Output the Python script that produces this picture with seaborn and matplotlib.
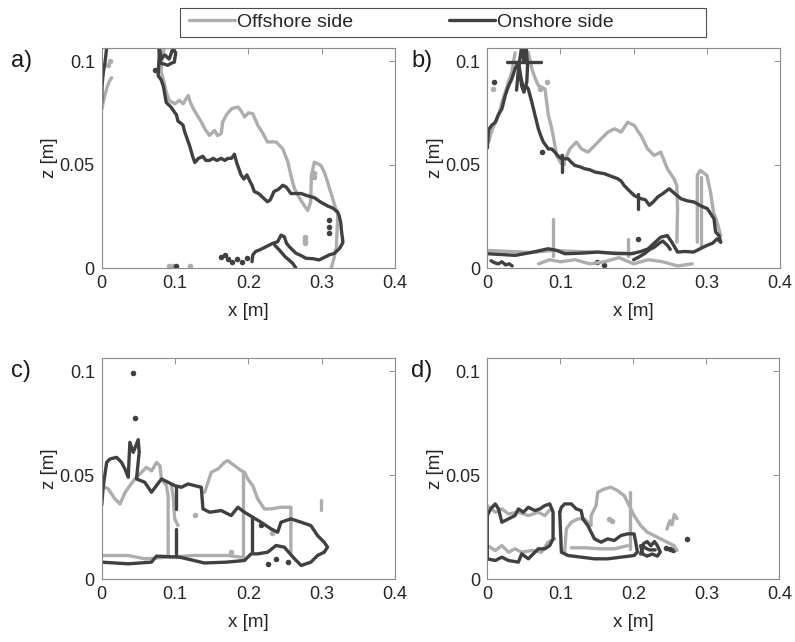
import numpy as np
import matplotlib
matplotlib.use('Agg')
import matplotlib.pyplot as plt
from matplotlib.lines import Line2D
from matplotlib.patches import Rectangle
import seaborn as sns

sns.set_style('white')
plt.rcParams['font.family'] = ['Liberation Sans', 'DejaVu Sans']

LIGHT = '#adadad'
DARK = '#404040'

# ---------------- panel a ----------------
a_on_main_x = [0.079, 0.078, 0.077, 0.081, 0.084, 0.086, 0.088, 0.094, 0.100, 0.102, 0.104, 0.108, 0.111, 0.113,
               0.116, 0.120, 0.124, 0.127, 0.132, 0.138, 0.142, 0.147, 0.152, 0.157, 0.163, 0.168, 0.172, 0.177,
               0.181, 0.184, 0.188, 0.190, 0.194, 0.198, 0.202, 0.205, 0.208, 0.214, 0.220, 0.226, 0.230, 0.235,
               0.241, 0.247, 0.252, 0.258, 0.265, 0.272, 0.280, 0.290, 0.298, 0.308, 0.315, 0.322, 0.324, 0.326,
               0.327, 0.329, 0.327, 0.324, 0.317, 0.310, 0.303, 0.2966, 0.288, 0.2785, 0.272, 0.265, 0.2558, 0.252,
               0.249, 0.2446, 0.240, 0.2332, 0.2242, 0.2151, 0.210, 0.206, 0.205]
a_on_main_z = [0.106, 0.100, 0.093, 0.091, 0.088, 0.084, 0.080, 0.078, 0.075, 0.074, 0.071, 0.070, 0.069, 0.066,
               0.063, 0.059, 0.054, 0.051, 0.053, 0.054, 0.052, 0.052, 0.053, 0.052, 0.053, 0.052, 0.053, 0.053,
               0.055, 0.051, 0.047, 0.045, 0.043, 0.045, 0.042, 0.040, 0.037, 0.036, 0.034, 0.032, 0.033, 0.037,
               0.038, 0.040, 0.039, 0.036, 0.036, 0.036, 0.035, 0.034, 0.032, 0.030, 0.029, 0.027, 0.025, 0.022,
               0.018, 0.0125, 0.011, 0.0093, 0.0070, 0.0063, 0.0050, 0.0039, 0.0045, 0.0047, 0.0060, 0.0071, 0.0103, 0.0120,
               0.0151, 0.0159, 0.0127, 0.0119, 0.0103, 0.0087, 0.0080, 0.0063, 0.0031]
a_on_tail_x = [0.236, 0.2423, 0.250, 0.2604, 0.2649]
a_on_tail_z = [0.0110, 0.0087, 0.0055, 0.0023, 0.0]
a_on_top_x = [0.078, 0.080, 0.086, 0.090, 0.095, 0.099, 0.101, 0.097, 0.092, 0.086, 0.081, 0.079]
a_on_top_z = [0.106, 0.099, 0.0985, 0.098, 0.099, 0.0995, 0.104, 0.106, 0.101, 0.103, 0.101, 0.106]
a_on_left_x = [0.0, 0.0005, 0.002, 0.0045, 0.0068]
a_on_left_z = [0.080, 0.088, 0.094, 0.0995, 0.1065]
a_on_dots_x = [0.0725, 0.163, 0.168, 0.172, 0.178, 0.185, 0.192, 0.198, 0.310, 0.310, 0.310, 0.101]
a_on_dots_z = [0.0955, 0.0055, 0.0062, 0.0045, 0.0030, 0.0042, 0.0030, 0.0050, 0.017, 0.020, 0.023, 0.001]

a_off_main_x = [0.085, 0.082, 0.081, 0.085, 0.088, 0.092, 0.0996, 0.106, 0.111, 0.118, 0.121, 0.125, 0.130, 0.136,
                0.141, 0.147, 0.154, 0.158, 0.163, 0.165, 0.170, 0.177, 0.186, 0.190, 0.195, 0.200, 0.206, 0.213,
                0.220, 0.226, 0.232, 0.238, 0.247, 0.254, 0.258, 0.263, 0.269, 0.276, 0.281, 0.285, 0.286, 0.290,
                0.299, 0.304, 0.308, 0.315, 0.322, 0.321, 0.320, 0.317, 0.313]
a_off_main_z = [0.106, 0.100, 0.095, 0.090, 0.085, 0.081, 0.0794, 0.081, 0.0794, 0.0834, 0.080, 0.077, 0.074, 0.0705,
                0.067, 0.0641, 0.0665, 0.064, 0.065, 0.0705, 0.074, 0.077, 0.0778, 0.076, 0.073, 0.075, 0.0746, 0.0689,
                0.065, 0.0609, 0.061, 0.0609, 0.0576, 0.0512, 0.0448, 0.0383, 0.0343, 0.0303, 0.0278, 0.0319, 0.0448, 0.0512,
                0.0496, 0.046, 0.0416, 0.0335, 0.0255, 0.018, 0.010, 0.005, 0.0]
a_off_left_x = [0.0005, 0.002, 0.004, 0.007, 0.010, 0.0135]
a_off_left_z = [0.077, 0.080, 0.083, 0.087, 0.090, 0.092]
a_off_bits_x = [0.277, 0.277, 0.277, 0.290, 0.290, 0.092, 0.097, 0.120, 0.008, 0.012]
a_off_bits_z = [0.012, 0.0135, 0.015, 0.044, 0.046, 0.001, 0.001, 0.001, 0.098, 0.100]

# ---------------- panel b ----------------
b_on_main_x = [0.0, 0.001, 0.002, 0.006, 0.011, 0.015, 0.020, 0.0245, 0.029, 0.0335, 0.038, 0.0426, 0.046, 0.0494,
               0.053, 0.056, 0.061, 0.0653, 0.0698, 0.073, 0.0766, 0.0834, 0.088, 0.0924, 0.097, 0.1015, 0.1105, 0.115,
               0.1196, 0.126, 0.133, 0.140, 0.147, 0.153, 0.160, 0.168, 0.178, 0.183, 0.187, 0.195, 0.201, 0.210,
               0.216, 0.2215, 0.227, 0.2328, 0.240, 0.2486, 0.256, 0.2645, 0.273, 0.2826, 0.292, 0.3007, 0.3098,
               0.312, 0.3166, 0.319]
b_on_main_z = [0.058, 0.063, 0.067, 0.069, 0.0705, 0.074, 0.077, 0.0834, 0.088, 0.0914, 0.0963, 0.0995, 0.092, 0.0866,
               0.088, 0.0866, 0.080, 0.0737, 0.0673, 0.064, 0.0609, 0.0576, 0.0575, 0.056, 0.054, 0.0528, 0.0528, 0.051,
               0.0496, 0.049, 0.048, 0.0475, 0.0464, 0.046, 0.0456, 0.0445, 0.0432, 0.042, 0.0399, 0.037, 0.035, 0.0335,
               0.033, 0.0303, 0.032, 0.0343, 0.036, 0.0383, 0.036, 0.0335, 0.0325, 0.0319, 0.030, 0.0287, 0.0238,
               0.0174, 0.0157, 0.0125]
b_on_bottom_x = [0.0, 0.020, 0.038, 0.060, 0.083, 0.095, 0.106, 0.130, 0.151, 0.175, 0.197, 0.210, 0.220, 0.228,
                 0.237, 0.246, 0.253, 0.260, 0.270, 0.282, 0.292, 0.300, 0.308, 0.314, 0.319]
b_on_bottom_z = [0.0069, 0.0065, 0.0061, 0.0075, 0.0093, 0.0085, 0.0069, 0.0072, 0.0077, 0.0070, 0.0069, 0.0080, 0.0093, 0.012,
                 0.0149, 0.0157, 0.012, 0.0077, 0.0080, 0.0077, 0.0095, 0.0109, 0.0120, 0.0141, 0.0125]
b_on_loop_x = [0.200, 0.208, 0.215, 0.222, 0.228, 0.235, 0.240, 0.246, 0.250]
b_on_loop_z = [0.004, 0.0055, 0.007, 0.009, 0.010, 0.012, 0.013, 0.011, 0.009]
b_on_blob_x = [0.005, 0.010, 0.015, 0.020, 0.025, 0.030, 0.034]
b_on_blob_z = [0.0035, 0.0025, 0.002, 0.003, 0.0015, 0.002, 0.001]
b_on_top_x = [0.040, 0.042, 0.044, 0.047, 0.050, 0.053, 0.055, 0.054, 0.050, 0.047, 0.045]
b_on_top_z = [0.086, 0.094, 0.100, 0.107, 0.100, 0.107, 0.098, 0.090, 0.085, 0.088, 0.093]
b_bar_x = [0.027, 0.074]
b_bar_z = [0.0995, 0.0995]
b_on_vert_x = [0.1015, 0.1015, 0.2056, 0.2056]
b_on_vert_z = [0.0464, 0.0544, 0.0287, 0.0359]
b_on_dots_x = [0.0087, 0.0743, 0.2056, 0.150, 0.160]
b_on_dots_z = [0.0898, 0.056, 0.0142, 0.003, 0.0015]

b_off_up1_x = [0.002, 0.005, 0.008, 0.012, 0.0154, 0.020, 0.0245, 0.029, 0.0335, 0.036, 0.038]
b_off_up1_z = [0.0609, 0.065, 0.068, 0.071, 0.074, 0.080, 0.085, 0.090, 0.0947, 0.100, 0.104]
b_off_up2_x = [0.056, 0.061, 0.065, 0.0698, 0.0788, 0.0834, 0.087, 0.090, 0.0947, 0.101, 0.107, 0.1128, 0.1218, 0.1286,
               0.1376, 0.1467, 0.1557, 0.1648, 0.1738, 0.1829, 0.1919, 0.201, 0.206, 0.21, 0.219, 0.228, 0.237, 0.246,
               0.255, 0.259, 0.260, 0.259]
b_off_up2_z = [0.1043, 0.0963, 0.092, 0.0882, 0.0866, 0.074, 0.069, 0.0641, 0.0544, 0.0505, 0.053, 0.0576, 0.0609, 0.0576,
               0.056, 0.0592, 0.0625, 0.0657, 0.0673, 0.0657, 0.0705, 0.0689, 0.066, 0.0641, 0.0576, 0.0544, 0.056, 0.048,
               0.0432, 0.0399, 0.0287, 0.0125]
b_off_loop_x = [0.287, 0.287, 0.291, 0.300, 0.305, 0.309, 0.314, 0.319]
b_off_loop_z = [0.0125, 0.0448, 0.0472, 0.0448, 0.0367, 0.0271, 0.0222, 0.0157]
b_off_vert_x = [0.292, 0.292, 0.0902, 0.0902, 0.192, 0.192]
b_off_vert_z = [0.010, 0.044, 0.0058, 0.0238, 0.006, 0.014]
b_off_bottom_x = [0.0, 0.03, 0.06, 0.09, 0.12, 0.16, 0.20]
b_off_bottom_z = [0.0085, 0.0080, 0.0075, 0.0085, 0.0080, 0.0075, 0.0070]
b_off_clutter_x = [0.07, 0.085, 0.10, 0.12, 0.14, 0.16, 0.18, 0.20, 0.22, 0.24, 0.26, 0.28]
b_off_clutter_z = [0.002, 0.004, 0.003, 0.004, 0.002, 0.003, 0.005, 0.002, 0.004, 0.003, 0.001, 0.002]
b_off_dots_x = [0.008, 0.072, 0.081, 0.101, 0.103]
b_off_dots_z = [0.0866, 0.0866, 0.0898, 0.054, 0.051]

# ---------------- panel c ----------------
c_on_up_x = [0.0, 0.0022, 0.0068, 0.0113, 0.0203, 0.027, 0.0317, 0.0362, 0.0384, 0.043, 0.0498, 0.0511, 0.0475,
             0.0588, 0.0679, 0.0747, 0.0815, 0.0906, 0.0996, 0.1087, 0.1177, 0.1268, 0.1358, 0.1381, 0.1472, 0.163,
             0.1766, 0.1857, 0.1947, 0.206, 0.2173, 0.2309, 0.24, 0.2445, 0.258, 0.272, 0.2853, 0.2943, 0.3034,
             0.308, 0.3034]
c_on_up_z = [0.0354, 0.0449, 0.0561, 0.0577, 0.0585, 0.0561, 0.0529, 0.0489, 0.0657, 0.0609, 0.067, 0.0609, 0.0481,
             0.0465, 0.0417, 0.0449, 0.0481, 0.0465, 0.0449, 0.0441, 0.0457, 0.0449, 0.0441, 0.0337, 0.0321, 0.0329,
             0.0305, 0.0345, 0.0321, 0.0297, 0.0273, 0.0241, 0.0225, 0.0273, 0.0289, 0.0273, 0.0257, 0.0209, 0.0177,
             0.0153, 0.0129]
c_on_low_x = [0.3034, 0.2943, 0.2853, 0.272, 0.263, 0.249, 0.2377, 0.2264, 0.2128, 0.2038, 0.1947, 0.17, 0.14,
              0.1064, 0.0747, 0.0679, 0.0362, 0.0]
c_on_low_z = [0.0129, 0.0113, 0.0081, 0.0065, 0.0097, 0.0153, 0.0161, 0.0129, 0.0121, 0.0121, 0.0089, 0.0081, 0.0077,
              0.0105, 0.011, 0.0081, 0.0073, 0.0081]
c_on_vert_x = [0.1019, 0.1019, 0.1019, 0.1019, 0.205, 0.205]
c_on_vert_z = [0.0449, 0.0337, 0.0241, 0.0121, 0.0297, 0.0137]
c_on_dots_x = [0.043, 0.0452, 0.2173, 0.254, 0.2264, 0.2377]
c_on_dots_z = [0.099, 0.0772, 0.0258, 0.0082, 0.0073, 0.0097]

c_off_up1_x = [0.0, 0.009, 0.018, 0.025, 0.032, 0.0384, 0.0452, 0.0543, 0.061, 0.068, 0.0747, 0.0793, 0.0815,
               0.0883, 0.0906, 0.0906]
c_off_up1_z = [0.0449, 0.0433, 0.0385, 0.0361, 0.0417, 0.0449, 0.0481, 0.0513, 0.0537, 0.052, 0.056, 0.0545, 0.0481,
               0.0449, 0.0401, 0.0113]
c_off_loop_x = [0.095, 0.0973, 0.0996, 0.1041]
c_off_loop_z = [0.045, 0.0401, 0.0289, 0.0257]
c_off_up2_x = [0.1404, 0.1449, 0.1494, 0.1585, 0.1675, 0.172, 0.1811, 0.1902, 0.1947, 0.1992, 0.206, 0.2128, 0.2219,
               0.2309, 0.2445, 0.258, 0.258]
c_off_up2_z = [0.0417, 0.0465, 0.0513, 0.0529, 0.0561, 0.0569, 0.0545, 0.0521, 0.0513, 0.0481, 0.0449, 0.0385, 0.0337,
               0.0337, 0.0345, 0.0345, 0.0129]
c_off_vert_x = [0.193, 0.193]
c_off_vert_z = [0.0513, 0.0105]
c_off_low_x = [0.0, 0.0362, 0.0588, 0.0906, 0.1268, 0.172, 0.19]
c_off_low_z = [0.0113, 0.0113, 0.0097, 0.0105, 0.0113, 0.0113, 0.0105]
c_off_blob_x = [0.299, 0.299]
c_off_blob_z = [0.033, 0.038]
c_off_dots_x = [0.1268, 0.177, 0.232]
c_off_dots_z = [0.0306, 0.013, 0.022]

# ---------------- panel d ----------------
d_on_box1_x = [0.0, 0.0045, 0.0109, 0.0154, 0.0199, 0.029, 0.038, 0.0426, 0.0494, 0.0562, 0.0652, 0.072, 0.0788,
               0.0856, 0.0901, 0.0901, 0.0856, 0.0788, 0.0698, 0.0562, 0.0471, 0.0426, 0.029, 0.0199, 0.0109, 0.0, 0.0]
d_on_box1_z = [0.0305, 0.0337, 0.0361, 0.0337, 0.0273, 0.0289, 0.0305, 0.0337, 0.0321, 0.0345, 0.0329, 0.0337, 0.0353,
               0.0361, 0.0321, 0.0193, 0.0161, 0.0145, 0.0145, 0.0097, 0.0121, 0.0081, 0.0089, 0.0105, 0.0089, 0.0097, 0.0305]
d_on_box2_x = [0.0992, 0.1015, 0.106, 0.1151, 0.1219, 0.1286, 0.1309, 0.1377, 0.1422, 0.1468, 0.1558, 0.1649, 0.1739,
               0.183, 0.192, 0.2011, 0.2033, 0.2056, 0.2011, 0.183, 0.1649, 0.1468, 0.1286, 0.1105, 0.1015, 0.0992]
d_on_box2_z = [0.0321, 0.0345, 0.0361, 0.0361, 0.0337, 0.0329, 0.0289, 0.0257, 0.0225, 0.0193, 0.0177, 0.0193, 0.0185,
               0.0209, 0.0217, 0.0217, 0.0177, 0.0129, 0.0113, 0.0105, 0.0097, 0.0097, 0.0105, 0.0113, 0.0129, 0.0321]
d_on_blob_x = [0.210, 0.214, 0.219, 0.224, 0.229, 0.233, 0.237, 0.233, 0.226, 0.219, 0.213, 0.210, 0.222, 0.230]
d_on_blob_z = [0.012, 0.017, 0.018, 0.016, 0.018, 0.016, 0.013, 0.011, 0.012, 0.011, 0.012, 0.016, 0.014, 0.014]
d_on_dots_x = [0.2736, 0.245, 0.250, 0.254]
d_on_dots_z = [0.0193, 0.015, 0.0145, 0.014]

d_off_up_x = [0.0, 0.011, 0.0199, 0.029, 0.0426, 0.0562, 0.0698, 0.0788, 0.085]
d_off_up_z = [0.0353, 0.0321, 0.0337, 0.0313, 0.0321, 0.0305, 0.0321, 0.0305, 0.033]
d_off_low_x = [0.0, 0.011, 0.0199, 0.029, 0.038, 0.0471, 0.0607, 0.0743, 0.0833, 0.0924]
d_off_low_z = [0.0161, 0.0137, 0.0161, 0.0129, 0.0145, 0.0129, 0.0137, 0.0129, 0.0177, 0.0193]
d_off_mid_x = [0.106, 0.1083, 0.1151, 0.1241, 0.133, 0.1422, 0.1422, 0.149, 0.1513, 0.1603, 0.1694, 0.1784, 0.1875,
               0.1943, 0.2011, 0.2101, 0.2192, 0.2283, 0.2373, 0.2464, 0.2554, 0.26]
d_off_mid_z = [0.0129, 0.0241, 0.0273, 0.0289, 0.0289, 0.0257, 0.0305, 0.0353, 0.0417, 0.0433, 0.0441, 0.0425, 0.0401,
               0.0353, 0.0305, 0.0257, 0.0225, 0.0209, 0.0193, 0.0177, 0.0161, 0.0137]
d_off_vert_x = [0.195, 0.195]
d_off_vert_z = [0.0417, 0.0145]
d_off_base_x = [0.115, 0.135, 0.1558, 0.1739, 0.192]
d_off_base_z = [0.0150, 0.0150, 0.0145, 0.0145, 0.0160]
d_off_squig_x = [0.246, 0.250, 0.253, 0.256, 0.260]
d_off_squig_z = [0.024, 0.028, 0.026, 0.031, 0.029]
d_off_dots_x = [0.167, 0.171]
d_off_dots_z = [0.029, 0.028]

ticks_x = [0, 0.1, 0.2, 0.3, 0.4]
ticks_z = [0, 0.05, 0.1]
tick_labels_x = ['0', '0.1', '0.2', '0.3', '0.4']
tick_labels_z = ['0', '0.05', '0.1']

panels = {
    'a': {'on': [(a_on_main_x, a_on_main_z), (a_on_tail_x, a_on_tail_z), (a_on_top_x, a_on_top_z),
                 (a_on_left_x, a_on_left_z)],
          'off': [(a_off_main_x, a_off_main_z), (a_off_left_x, a_off_left_z)],
          'on_dots': (a_on_dots_x, a_on_dots_z), 'off_dots': (a_off_bits_x, a_off_bits_z)},
    'b': {'on': [(b_on_main_x, b_on_main_z), (b_on_bottom_x, b_on_bottom_z), (b_on_loop_x, b_on_loop_z),
                 (b_on_blob_x, b_on_blob_z), (b_on_top_x, b_on_top_z), (b_bar_x, b_bar_z)],
          'off': [(b_off_up1_x, b_off_up1_z), (b_off_up2_x, b_off_up2_z), (b_off_loop_x, b_off_loop_z),
                  (b_off_bottom_x, b_off_bottom_z), (b_off_clutter_x, b_off_clutter_z)],
          'on_pairs': (b_on_vert_x, b_on_vert_z), 'off_pairs': (b_off_vert_x, b_off_vert_z),
          'on_dots': (b_on_dots_x, b_on_dots_z), 'off_dots': (b_off_dots_x, b_off_dots_z)},
    'c': {'on': [(c_on_up_x, c_on_up_z), (c_on_low_x, c_on_low_z)],
          'off': [(c_off_up1_x, c_off_up1_z), (c_off_loop_x, c_off_loop_z), (c_off_up2_x, c_off_up2_z),
                  (c_off_vert_x, c_off_vert_z), (c_off_low_x, c_off_low_z), (c_off_blob_x, c_off_blob_z)],
          'on_pairs': (c_on_vert_x, c_on_vert_z),
          'on_dots': (c_on_dots_x, c_on_dots_z), 'off_dots': (c_off_dots_x, c_off_dots_z)},
    'd': {'on': [(d_on_box1_x, d_on_box1_z), (d_on_box2_x, d_on_box2_z), (d_on_blob_x, d_on_blob_z)],
          'off': [(d_off_up_x, d_off_up_z), (d_off_low_x, d_off_low_z), (d_off_mid_x, d_off_mid_z),
                  (d_off_vert_x, d_off_vert_z), (d_off_base_x, d_off_base_z), (d_off_squig_x, d_off_squig_z)],
          'on_dots': (d_on_dots_x, d_on_dots_z), 'off_dots': (d_off_dots_x, d_off_dots_z)},
}

LW = 2.4

fig = plt.figure(figsize=(7.95, 6.42), dpi=100)
# axes boxes in pixels: left, top, right, bottom
boxes = {'a': (101.7, 47.7, 395, 268), 'b': (487.3, 47.7, 780, 268),
         'c': (101.7, 357.5, 395, 579), 'd': (487.3, 357.5, 779.3, 579)}
W, H = 795, 642


def draw_pairs(ax, xs, zs, color):
    # consecutive pairs of points are short vertical segments
    for i in range(0, len(xs), 2):
        sns.lineplot(x=xs[i:i + 2], y=zs[i:i + 2], ax=ax, color=color, lw=LW, sort=False, estimator=None)


for name, p in panels.items():
    l, t, r, b = boxes[name]
    ax = fig.add_axes([l / W, 1 - b / H, (r - l) / W, (b - t) / H])
    for xs, zs in p['off']:
        sns.lineplot(x=xs, y=zs, ax=ax, color=LIGHT, lw=LW, sort=False, estimator=None)
    if 'off_pairs' in p:
        draw_pairs(ax, *p['off_pairs'], LIGHT)
    sns.scatterplot(x=p['off_dots'][0], y=p['off_dots'][1], ax=ax, color=LIGHT, s=16, linewidth=0)
    for xs, zs in p['on']:
        sns.lineplot(x=xs, y=zs, ax=ax, color=DARK, lw=LW, sort=False, estimator=None)
    if 'on_pairs' in p:
        draw_pairs(ax, *p['on_pairs'], DARK)
    sns.scatterplot(x=p['on_dots'][0], y=p['on_dots'][1], ax=ax, color=DARK, s=16, linewidth=0)

    ax.set_xlim(0, 0.4)
    ax.set_ylim(0, 0.1065)
    ax.set_xticks(ticks_x)
    ax.set_xticklabels(tick_labels_x)
    ax.set_yticks(ticks_z)
    ax.set_yticklabels(tick_labels_z)
    ax.tick_params(direction='in', length=4, width=0.6, top=True, right=True,
                   labelsize=13, colors='#7f7f7f', labelcolor='#262626', pad=5)
    for s in ax.spines.values():
        s.set_color('#8c8c8c')
        s.set_linewidth(0.8)
    ax.set_xlabel('x [m]', fontsize=13.5, color='#262626', labelpad=8)
    ax.set_ylabel('z [m]', fontsize=13.5, color='#262626', labelpad=1)
    fig.text((11 if l < 200 else 411) / W, 1 - (t + 13.5) / H, name + ')', fontsize=17,
             va='center', ha='left', color='#1a1a1a')

# legend across the top
handles = [Line2D([], [], color=LIGHT, lw=2.4), Line2D([], [], color=DARK, lw=2.4)]
fig.legend(handles, ['Offshore side', 'Onshore side'], ncol=2, frameon=False,
           loc='center left', bbox_to_anchor=(179 / W, 1 - 22.5 / H), borderpad=0,
           handlelength=2.4, handletextpad=0.1, columnspacing=4.9, fontsize=14)
fig.patches.append(Rectangle((180 / W, 1 - 37 / H), 526 / W, 29 / H, transform=fig.transFigure,
                             fill=False, edgecolor='#4d4d4d', lw=0.8))

fig.savefig('out.png', dpi=100)
